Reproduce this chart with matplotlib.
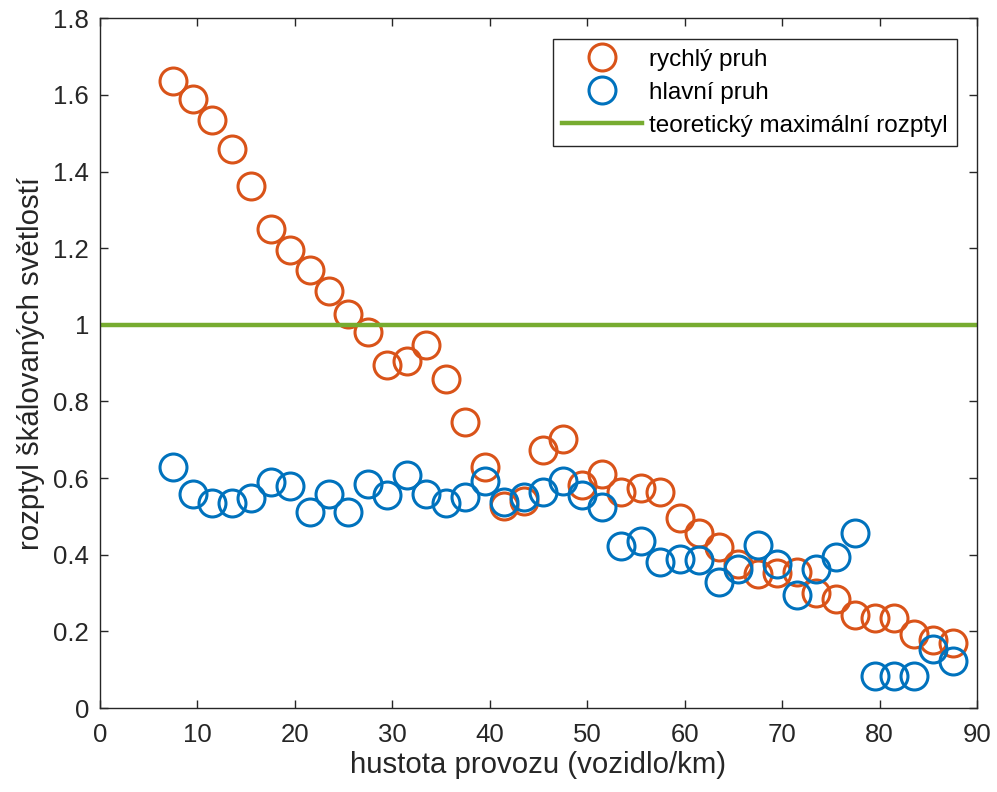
import matplotlib
matplotlib.use("Agg")
import matplotlib.pyplot as plt

# hustota provozu (vozidlo/km)
hustota = [7.5 + 2 * i for i in range(41)]

rychly_pruh = [1.636, 1.589, 1.534, 1.458, 1.363, 1.25, 1.195, 1.143, 1.089, 1.028,
               0.982, 0.895, 0.905, 0.948, 0.858, 0.747, 0.63, 0.527, 0.54, 0.673,
               0.703, 0.582, 0.61, 0.564, 0.573, 0.564, 0.495, 0.457, 0.421, 0.377,
               0.35, 0.352, 0.355, 0.3, 0.284, 0.243, 0.234, 0.234, 0.193, 0.177, 0.171]

hlavni_pruh = [0.63, 0.558, 0.536, 0.536, 0.547, 0.589, 0.58, 0.512, 0.558, 0.512,
               0.584, 0.556, 0.608, 0.558, 0.534, 0.55, 0.592, 0.538, 0.551, 0.564,
               0.592, 0.556, 0.525, 0.423, 0.436, 0.382, 0.39, 0.386, 0.33, 0.364,
               0.425, 0.377, 0.295, 0.364, 0.395, 0.457, 0.083, 0.083, 0.083, 0.153, 0.123]

max_rozptyl = 1.0

GRAY = "#262626"
plt.rcParams["font.family"] = ["Liberation Sans", "DejaVu Sans"]

fig = plt.figure(figsize=(9.97, 7.92), dpi=100)
ax = fig.add_axes([0.1003, 0.106, 0.8797, 0.871])

ax.plot(hustota, rychly_pruh, linestyle="none", marker="o", markersize=19.4,
        markerfacecolor="none", markeredgecolor="#D95319", markeredgewidth=2.2,
        label="rychlý pruh")
ax.plot(hustota, hlavni_pruh, linestyle="none", marker="o", markersize=19.4,
        markerfacecolor="none", markeredgecolor="#0072BD", markeredgewidth=2.2,
        label="hlavní pruh")
ax.axhline(max_rozptyl, color="#77AC30", linewidth=3.2,
           label="teoretický maximální rozptyl")

ax.set_xlim(0, 90)
ax.set_ylim(0, 1.8)
ax.set_xticks(range(0, 91, 10))
ax.set_yticks([0, 0.2, 0.4, 0.6, 0.8, 1, 1.2, 1.4, 1.6, 1.8])
ax.set_yticklabels(["0", "0.2", "0.4", "0.6", "0.8", "1", "1.2", "1.4", "1.6", "1.8"])

ax.tick_params(direction="in", length=6, width=1, colors=GRAY, labelsize=18.5,
               top=True, right=True)
ax.tick_params(axis="x", pad=11)
ax.tick_params(axis="y", pad=8)
for s in ax.spines.values():
    s.set_color(GRAY)
    s.set_linewidth(1)

ax.set_xlabel("hustota provozu (vozidlo/km)", fontsize=21.2, color=GRAY, labelpad=3)
ax.set_ylabel("rozptyl škálovaných světlostí", fontsize=21.2, color=GRAY, labelpad=6)

leg = ax.legend(loc="upper right", bbox_to_anchor=(0.977, 0.970), borderaxespad=0,
                fontsize=17.5, frameon=True, fancybox=False, edgecolor=GRAY,
                framealpha=1, borderpad=0.4, labelspacing=0.45, handlelength=3.3,
                handletextpad=0.25)
leg.get_frame().set_linewidth(1)

fig.savefig("out.png", dpi=100)
